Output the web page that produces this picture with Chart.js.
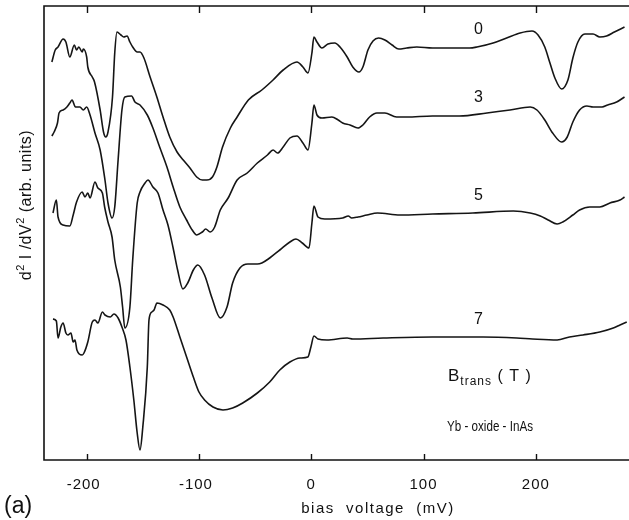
<!DOCTYPE html>
<html>
<head>
<meta charset="utf-8">
<script src="https://cdn.jsdelivr.net/npm/chart.js@4"></script>
<style>
html,body{margin:0;padding:0;background:#fff}
#wrap{width:629px;height:520px}
</style>
</head>
<body>
<div id="wrap"><canvas id="chart" width="629" height="520"></canvas></div>
<script>
// ======================= DATA =======================
// bias voltage (mV) and d2I/dV2 (arb. units, curves offset) for each B_trans
const bias0=[-231,-228,-225.5,-221,-218.5,-215,-211,-209,-207,-204,-203,-200,-199,-195,-193,-188,-185,-183,-181,-177,-175,-173,-169.5,-167,-164,-161.5,-159,-155,-152.5,-149,-143.5,-137.5,-132,-126,-119.5,-114,-108,-102,-97,-93,-88,-84,-79,-72,-66,-56,-44,-34,-25,-12.7,-7.4,-2.9,0.6,2.4,5.1,9.5,14.9,21,25.6,32,37,42.5,46,50.5,55,60,65.6,72,78,85,94,108,141,147.6,162,174,186,196.6,202,208,212.6,217,223,228.6,233,237.5,243.7,251,257,263,270,279];
const d2_0=[398,410,413,421,418,403,415,410,413,408,411,403,393,383,378,350,328,323,328,363,407,428,425,423,424,418,413,408,408,402,383,363,343,323,308,300,292,283,280,280,283,293,313,332,343,360,370,380,390,398,393,387,407,423,418,412,416,417,413,403,393,388,393,410,419,422,420,415,411,412,413,412,412,413,417,422,427,429,425,413,397,382,371,380,402,418,426,426,423,424,428,433];

const bias3=[-231,-229,-226,-224.6,-221,-217.6,-215,-213,-210,-206,-203,-200,-197,-192.6,-188,-183.7,-181,-177.4,-175,-172,-168.6,-166,-160,-157,-152.5,-146,-141,-135,-128.5,-123,-117,-111,-106,-102,-97,-94,-90,-86,-81,-74,-66,-57,-48,-39,-34,-30,-25,-19,-12.7,-7.4,-2.9,0.6,2.4,5.1,9.5,18.4,24,28,34.5,41.6,46,52,58.5,65.6,76,85,108,132,156.5,177,195,201,208,215,223,228,233,239,245.5,251,259,264,272,279];
const d2_3=[324,328,337,347,350,353,357,360,353,353,350,353,345,327,310,280,257,242,253,300,350,363,364,358,355,345,332,313,293,273,253,240,230,225,228,231,228,233,250,262,280,287,297,305,310,307,313,322,324,317,310,337,355,345,342,343,340,337,335,332,335,343,347,347,343,343,344,344,347,350,353,350,340,327,318,323,338,350,354,353,353,355,358,363];

const bias5=[-230,-227,-225.5,-221,-215,-212,-209,-204,-201.5,-199,-197,-192.6,-190,-186,-184,-181,-177.4,-175,-170,-168,-166,-161.5,-159,-155,-152.5,-148,-145.4,-141,-136.5,-132,-127.6,-123,-119,-114.3,-110,-105,-101,-95,-88.4,-81,-75,-70,-63.5,-56.4,-48,-44,-37,-28,-19,-13.6,-8,-2,0.6,2.4,6,12,28,33,36,41.6,49.6,59,79,108,144,180,195,204,211,219,224,233,239,248,257,266,275,279];
const d2_5=[247,260,243,235,234,245,258,268,263,267,262,278,272,267,253,238,223,200,173,153,132,153,200,257,268,277,280,273,267,250,235,212,190,171,177,190,195,185,162,142,153,177,192,196,196,197,202,210,218,221,217,212,237,254,243,241,242,244,242,243,245,247,245,246,247,249,247,244,240,236,238,245,250,253,253,257,260,263];

const bias7=[-230,-227,-225.5,-223,-221,-218.5,-216.7,-214,-212,-210.4,-208.7,-204,-202.4,-199,-195,-192.6,-190,-186,-183.7,-179,-175.7,-172,-168.6,-165,-161.5,-158,-155,-152.5,-150,-146,-144.5,-142,-140,-137.4,-132,-126,-123,-117,-111,-105,-100,-95,-87.5,-78.6,-70,-61,-48,-37,-28,-19,-10,-3,-0.3,2.4,6,14,32,37,64,108,153,183,197,219,230,242,257,269,275,281];
const d2_7=[141,139,122,133,137,127,125,127,118,120,110,105,107,118,138,140,137,148,145,143,146,142,133,120,93,60,27,10,33,93,140,148,150,157,155,150,143,123,103,83,68,60,53,50,52,57,67,78,90,98,102,103,113,124,121,120,122,121,122,123,123,122,121,120,123,125,128,132,135,138];

const fieldLabels=['0','3','5','7'];
const fieldLabelBias=[149,149,149,149];
const fieldLabelD2=[426,358,260,136];
const tickValues=[-200,-100,0,100,200];

// ======================= CHART =======================
const series=[[bias0,d2_0],[bias3,d2_3],[bias5,d2_5],[bias7,d2_7]];
const datasets=series.map(([xs,ys],i)=>({
  label:fieldLabels[i],
  data:xs.map((x,j)=>({x,y:ys[j]})),
  borderColor:'#151515',
  borderWidth:1.6,
  pointRadius:0,
  fill:false,
  cubicInterpolationMode:'monotone'
}));

function drawMixed(ctx,parts,x,y,align){
  // parts: [text, font, dy]
  let w=0;
  parts.forEach(p=>{ctx.font=p[1];w+=ctx.measureText(p[0]).width;});
  let cx=align==='center'?x-w/2:x;
  parts.forEach(p=>{ctx.font=p[1];ctx.fillText(p[0],cx,y+p[2]);cx+=ctx.measureText(p[0]).width;});
}

const frame={
  id:'frame',
  afterDraw(chart){
    const {ctx,chartArea:a,scales:{x,y}}=chart;
    ctx.save();
    ctx.strokeStyle='#111';ctx.fillStyle='#111';
    ctx.lineWidth=1.6;
    ctx.beginPath();
    ctx.moveTo(a.right,a.top);ctx.lineTo(a.left,a.top);ctx.lineTo(a.left,a.bottom);ctx.lineTo(a.right,a.bottom);
    ctx.stroke();
    ctx.lineWidth=1.4;
    tickValues.forEach(v=>{
      const px=Math.round(x.getPixelForValue(v))+0.5;
      ctx.beginPath();
      ctx.moveTo(px,a.bottom);ctx.lineTo(px,a.bottom-6);
      ctx.moveTo(px,a.top);ctx.lineTo(px,a.top+7);
      ctx.stroke();
    });
    // tick labels
    ctx.textAlign='center';ctx.textBaseline='alphabetic';
    ctx.font='15px "Liberation Sans"';
    ctx.letterSpacing='1px';
    tickValues.forEach(v=>{
      const s=v<0?'-'+Math.abs(v):String(v);
      ctx.fillText(s,x.getPixelForValue(v)-(v<0?3:0),489);
    });
    // curve labels
    ctx.letterSpacing='0px';
    ctx.font='16px "Liberation Sans"';
    fieldLabels.forEach((t,i)=>{
      ctx.fillText(t,x.getPixelForValue(fieldLabelBias[i]),y.getPixelForValue(fieldLabelD2[i]));
    });
    // axis title
    ctx.letterSpacing='1.5px';
    ctx.font='15px "Liberation Sans"';
    ctx.fillText('bias  voltage  (mV)',378,513);
    ctx.letterSpacing='0px';
    ctx.font='23px "Liberation Sans"';
    ctx.textAlign='left';
    ctx.fillText('(a)',4,513);
    // B_trans (T)
    ctx.letterSpacing='1px';
    drawMixed(ctx,[['B','17px "Liberation Sans"',0],['trans','12px "Liberation Sans"',4],[' ( T )','16px "Liberation Sans"',0]],448,381,'left');
    ctx.letterSpacing='0px';
    ctx.font='15px "Liberation Sans"';
    ctx.fillText('Yb - oxide - InAs',447,431,86);
    // y title
    ctx.save();
    ctx.translate(31,205);ctx.rotate(-Math.PI/2);
    ctx.letterSpacing='0.5px';
    drawMixed(ctx,[['d','16px "Liberation Sans"',0],['2','11px "Liberation Sans"',-7],[' I /dV','16px "Liberation Sans"',0],['2','11px "Liberation Sans"',-7],[' (arb. units)','16px "Liberation Sans"',0]],0,0,'center');
    ctx.restore();
    ctx.restore();
  }
};

new Chart(document.getElementById('chart'),{
  type:'line',
  data:{datasets},
  options:{
    responsive:false,
    animation:false,
    devicePixelRatio:1,
    layout:{padding:{left:44,right:0,top:6,bottom:60}},
    plugins:{legend:{display:false},tooltip:{enabled:false}},
    scales:{
      x:{type:'linear',min:-238,max:283,display:false},
      y:{min:0,max:454,display:false}
    }
  },
  plugins:[frame]
});
</script>
</body>
</html>
